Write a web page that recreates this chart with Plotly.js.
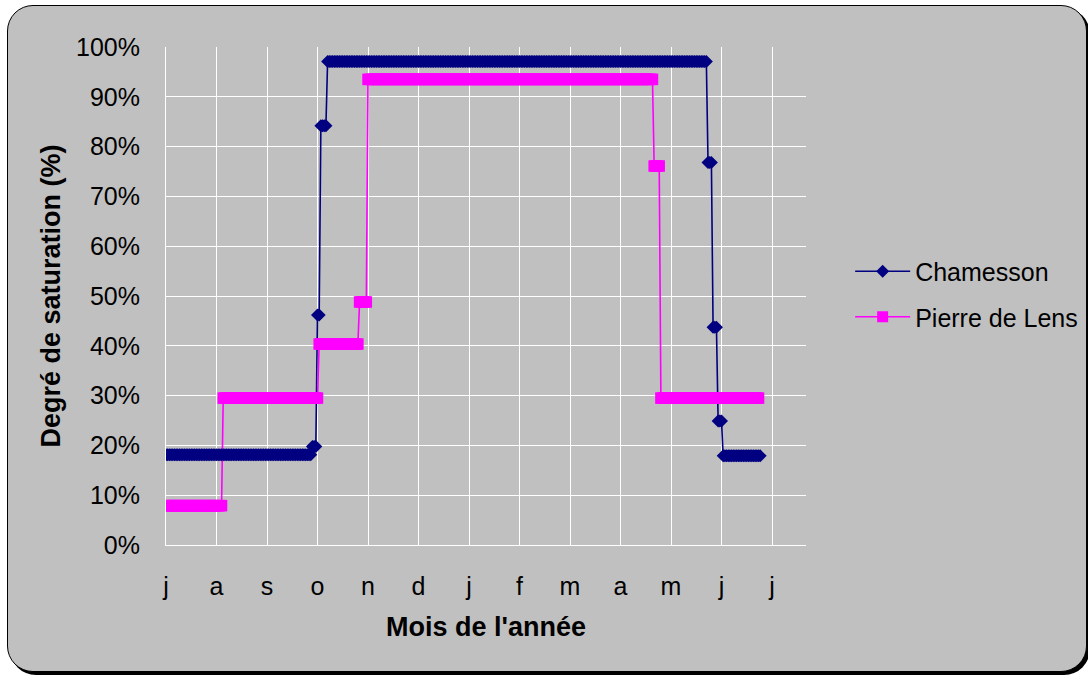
<!DOCTYPE html>
<html>
<head>
<meta charset="utf-8">
<script src="https://cdn.plot.ly/plotly-3.0.1.min.js"></script>
<style>
  html, body { margin: 0; padding: 0; background: #ffffff; width: 1088px; height: 677px; overflow: hidden; }
  #frame { position: absolute; left: 7px; top: 5px; width: 1080px; height: 667px;
           background: #C0C0C0; border: 1px solid #000; border-radius: 26px;
           box-shadow: 3px 3px 0 #000; box-sizing: border-box; }
  #chart { position: absolute; left: 0; top: 0; width: 1120px; height: 677px; }
</style>
</head>
<body>
<div id="frame"></div>
<div id="chart"></div>
<script>
// Month tick labels (one every 30 days, starting in July)
const monthDays = [0, 30, 60, 90, 120, 150, 180, 210, 240, 270, 300, 330, 360];
const monthLabels = ['j', 'a', 's', 'o', 'n', 'd', 'j', 'f', 'm', 'a', 'm', 'j', 'j'];

// Chamesson: saturation level (%) held from start day to end day (runs)
const chamLevels = [18.1, 19.8, 46.2, 84.2, 97.1, 76.8, 43.7, 24.9, 17.9];
const chamStart  = [0,    87,   90,   92,   96,   322,  325,  328,  331];
const chamEnd    = [86,   89,   91,   95,   321,  324,  327,  330,  353];

// Pierre de Lens
const pierLevels = [7.9, 29.5, 40.35, 48.8, 93.5, 76.1, 29.5];
const pierStart  = [0,   34,   91,    115,  120,  290,  294];
const pierEnd    = [33,  90,   114,   119,  289,  293,  352];

function expandRuns(levels, starts, ends) {
  const x = [], y = [];
  for (let k = 0; k < levels.length; k++) {
    for (let d = starts[k]; d <= ends[k]; d++) { x.push(d); y.push(levels[k]); }
  }
  return {x, y};
}
const cham = expandRuns(chamLevels, chamStart, chamEnd);
const pier = expandRuns(pierLevels, pierStart, pierEnd);

const navy = '#000080', pink = '#FF00FF';
const font = 'Arial, "Liberation Sans", sans-serif';

const traces = [
  {x: cham.x, y: cham.y, mode: 'lines', line: {color: navy, width: 1.6}, showlegend: false, hoverinfo: 'skip'},
  {x: pier.x, y: pier.y, mode: 'lines', line: {color: pink, width: 1.6}, showlegend: false, hoverinfo: 'skip'},
  {x: cham.x, y: cham.y, mode: 'markers', marker: {symbol: 'diamond', size: 10, color: navy}, showlegend: false},
  {x: pier.x, y: pier.y, mode: 'markers', marker: {symbol: 'square', size: 11.5, color: pink}, showlegend: false},
  {x: [null], y: [null], name: 'Chamesson', legendgroup: 'a', mode: 'lines+markers',
   line: {color: navy, width: 1.6}, marker: {symbol: 'diamond', size: 10, color: navy}},
  {x: [null], y: [null], name: 'Pierre de Lens', legendgroup: 'b', mode: 'lines+markers',
   line: {color: pink, width: 1.6}, marker: {symbol: 'square', size: 11, color: pink}}
];

const layout = {
  width: 1120, height: 677,
  margin: {l: 166, r: 314, t: 47, b: 132},
  paper_bgcolor: 'rgba(0,0,0,0)',
  plot_bgcolor: '#C0C0C0',
  font: {family: font, color: '#000', size: 25},
  showlegend: true,
  legend: {x: 1.069, y: 0.504, xanchor: 'left', yanchor: 'middle', bgcolor: 'rgba(0,0,0,0)',
           font: {family: font, size: 25, color: '#000'}, itemwidth: 55, tracegroupgap: 10},
  xaxis: {
    range: [0, 380.2], tickmode: 'array', tickvals: monthDays, ticktext: monthLabels,
    showgrid: true, gridcolor: '#FFFFFF', gridwidth: 1, zeroline: false,
    showline: true, linecolor: '#FFFFFF', linewidth: 1, ticks: '',
    ticklabelstandoff: 19, tickfont: {family: font, size: 25, color: '#000'},
    title: {text: "Mois de l'année", font: {family: font, size: 27, color: '#000', weight: 'bold'}, standoff: 18}
  },
  yaxis: {
    range: [0, 100], dtick: 10, ticksuffix: '%',
    showgrid: true, gridcolor: '#FFFFFF', gridwidth: 1, zeroline: false,
    showline: true, linecolor: '#FFFFFF', linewidth: 1, ticks: '',
    ticklabelstandoff: 20, tickfont: {family: font, size: 25, color: '#000'},
    title: {text: 'Degré de saturation (%)', font: {family: font, size: 27, color: '#000', weight: 'bold'}, standoff: 7}
  }
};

Plotly.newPlot('chart', traces, layout, {displayModeBar: false, staticPlot: true});
</script>
</body>
</html>
